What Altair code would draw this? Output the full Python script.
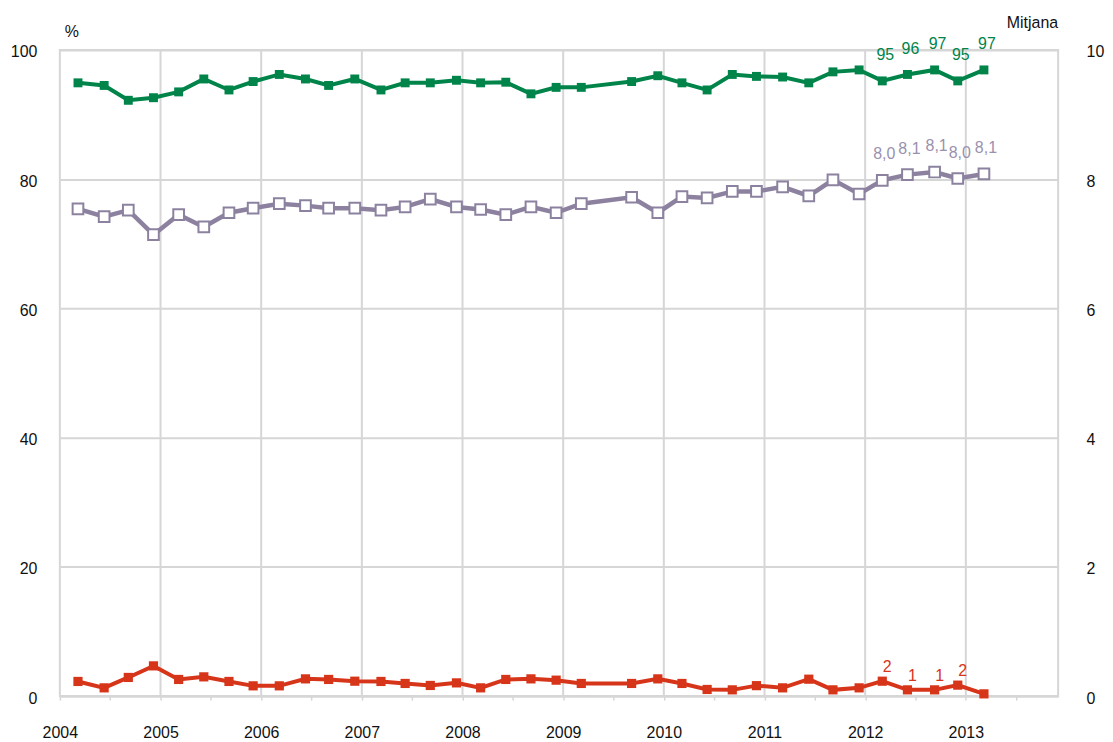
import altair as alt
import pandas as pd

# Survey dates as fractional years
dates = [2004.18, 2004.44, 2004.68, 2004.93, 2005.18, 2005.43, 2005.68, 2005.92,
         2006.18, 2006.44, 2006.67, 2006.93, 2007.19, 2007.43, 2007.68, 2007.94,
         2008.18, 2008.43, 2008.68, 2008.93, 2009.18, 2009.68, 2009.94, 2010.18,
         2010.43, 2010.68, 2010.92, 2011.18, 2011.44, 2011.68, 2011.94, 2012.17,
         2012.42, 2012.69, 2012.92, 2013.18]

# Green series (%), left axis
green = [94.9, 94.5, 92.2, 92.6, 93.5, 95.5, 93.8, 95.1, 96.2, 95.5, 94.5, 95.5,
         93.8, 94.9, 94.9, 95.3, 94.9, 95.0, 93.2, 94.2, 94.2, 95.1, 96.0, 94.9,
         93.8, 96.2, 95.9, 95.8, 94.9, 96.6, 96.9, 95.2, 96.2, 96.9, 95.2, 96.9]

# Red series (%), left axis
red = [2.27, 1.28, 2.89, 4.68, 2.58, 2.98, 2.27, 1.59, 1.59, 2.67, 2.58, 2.31,
       2.27, 1.96, 1.65, 2.05, 1.28, 2.58, 2.67, 2.47, 1.96, 1.96, 2.67, 1.96,
       1.03, 0.97, 1.62, 1.28, 2.62, 0.97, 1.28, 2.31, 0.97, 0.97, 1.70, 0.35]

# Mean score (0-10), right axis
mean = [7.54, 7.42, 7.52, 7.14, 7.45, 7.26, 7.48, 7.55, 7.62, 7.59, 7.55, 7.55,
        7.52, 7.57, 7.69, 7.57, 7.53, 7.45, 7.57, 7.48, 7.62, 7.72, 7.48, 7.73,
        7.71, 7.81, 7.81, 7.88, 7.74, 7.99, 7.77, 7.98, 8.07, 8.11, 8.01, 8.08]

# Data labels shown on last waves
green_label_dates = [2012.17, 2012.42, 2012.69, 2012.92, 2013.18]
green_label_vals = [95.2, 96.2, 96.9, 95.2, 96.9]
green_labels = ["95", "96", "97", "95", "97"]

mean_label_dates = [2012.17, 2012.42, 2012.69, 2012.92, 2013.18]
mean_label_vals = [7.98, 8.07, 8.11, 8.01, 8.08]
mean_labels = ["8,0", "8,1", "8,1", "8,0", "8,1"]

red_label_dates = [2012.17, 2012.42, 2012.69, 2012.92]
red_label_vals = [2.31, 0.97, 0.97, 1.70]
red_labels = ["2", "1", "1", "2"]

year_lines = [2005, 2006, 2007, 2008, 2009, 2010, 2011, 2012, 2013]
quarter_ticks = [2004 + q * 0.25 for q in range(40)]
left_ticks = [0, 20, 40, 60, 80, 100]
right_ticks = [0, 2, 4, 6, 8, 10]

GREEN = "#00844A"
RED = "#D7351A"
GRAY = "#8C82A0"
GRAY_TXT = "#9A91AE"
GRID = "#D6D6D6"
FONT = "Liberation Sans"
FS = 16

df_green = pd.DataFrame({"date": dates, "value": green})
df_red = pd.DataFrame({"date": dates, "value": red})
df_mean = pd.DataFrame({"date": dates, "value": mean})
df_gl = pd.DataFrame({"date": green_label_dates, "value": green_label_vals, "label": green_labels})
df_rl = pd.DataFrame({"date": red_label_dates, "value": red_label_vals, "label": red_labels})
df_ml = pd.DataFrame({"date": mean_label_dates, "value": mean_label_vals, "label": mean_labels})
df_years = pd.DataFrame({"year": year_lines})
df_one = pd.DataFrame({"k": [0]})

xscale = alt.Scale(domain=[2004, 2013.917], nice=False, zero=False)
X = alt.X("date:Q", scale=xscale, axis=alt.Axis(
    values=quarter_ticks, labelExpr="datum.value % 1 == 0 ? datum.value : ''",
    grid=False, domainColor=GRID, domainWidth=2, tickColor=GRID, tickWidth=1.5,
    tickSize=4, labelFontSize=FS, labelFont=FONT, labelColor="#111",
    labelPadding=37, labelBaseline="alphabetic", labelFlush=False,
    labelOverlap=False, title=None))

YL = alt.Y("value:Q", scale=alt.Scale(domain=[0, 100], nice=False), axis=alt.Axis(
    orient="left", values=left_ticks, grid=True, gridColor=GRID, gridWidth=2,
    domain=False, ticks=False, labelFontSize=FS, labelFont=FONT, labelColor="#111",
    labelPadding=23, labelOffset=2, title=None))

YR = alt.Y("value:Q", scale=alt.Scale(domain=[0, 10], nice=False), axis=alt.Axis(
    orient="right", values=right_ticks, grid=False, domain=False, ticks=False,
    labelFontSize=FS, labelFont=FONT, labelColor="#111", labelPadding=28,
    labelOffset=2, title=None))

vgrid = alt.Chart(df_years).mark_rule(color=GRID, strokeWidth=2).encode(
    x=alt.X("year:Q", scale=xscale))

g_line = alt.Chart(df_green).mark_line(color=GREEN, strokeWidth=4).encode(x=X, y=YL)
g_pts = alt.Chart(df_green).mark_square(color=GREEN, size=80, opacity=1).encode(x=X, y=YL)
r_line = alt.Chart(df_red).mark_line(color=RED, strokeWidth=4).encode(x=X, y=YL)
r_pts = alt.Chart(df_red).mark_square(color=RED, size=85, opacity=1).encode(x=X, y=YL)

g_txt = alt.Chart(df_gl).mark_text(color=GREEN, fontSize=FS, font=FONT, dx=3, dy=-26).encode(
    x=X, y=YL, text="label:N")
r_txt = alt.Chart(df_rl).mark_text(color=RED, fontSize=FS, font=FONT, dx=5, dy=-14).encode(
    x=X, y=YL, text="label:N")

pct = alt.Chart(df_one).mark_text(text="%", fontSize=FS, font=FONT, color="#111",
                                  align="left", baseline="middle").encode(
    x=alt.value(5), y=alt.value(-18))
mitj = alt.Chart(df_one).mark_text(text="Mitjana", fontSize=FS, font=FONT, color="#111",
                                   align="right", baseline="middle").encode(
    x=alt.value(1001), y=alt.value(-27))

left = alt.layer(vgrid, g_line, g_pts, r_line, r_pts, g_txt, r_txt, pct, mitj)

m_line = alt.Chart(df_mean).mark_line(color=GRAY, strokeWidth=4.5).encode(x=X, y=YR)
m_pts = alt.Chart(df_mean).mark_square(fill="white", stroke=GRAY, strokeWidth=2,
                                       size=115, opacity=1).encode(x=X, y=YR)
m_txt = alt.Chart(df_ml).mark_text(color=GRAY_TXT, fontSize=FS, font=FONT, dx=2, dy=-26).encode(
    x=X, y=YR, text="label:N")

right = alt.layer(m_line, m_pts, m_txt)

chart = alt.layer(left, right).resolve_scale(y="independent").properties(
    width=1001, height=648,
    autosize=alt.AutoSizeParams(type="none"),
    padding={"left": 52, "top": 41, "right": 47, "bottom": 44},
).configure_view(stroke=GRID, strokeWidth=2)

chart.save("out.html", embed_options={"renderer": "svg", "actions": False})
